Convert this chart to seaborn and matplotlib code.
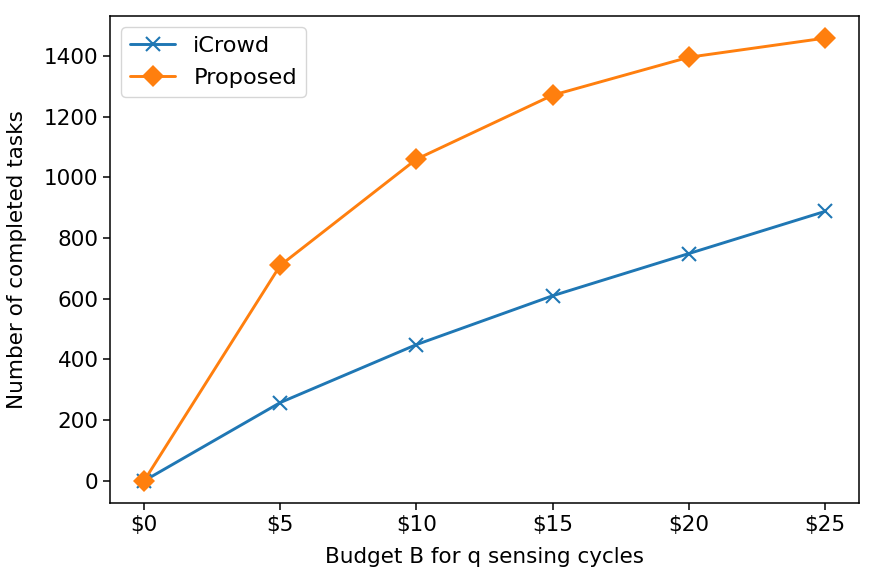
import matplotlib
matplotlib.use("Agg")
import matplotlib.pyplot as plt
import seaborn as sns
import pandas as pd

budget = [0, 5, 10, 15, 20, 25]
tick_labels = ["$0", "$5", "$10", "$15", "$20", "$25"]
icrowd = [0, 258, 449, 610, 749, 888]
proposed = [0, 710, 1060, 1271, 1396, 1459]

FS = 15.5
sns.set_theme(style="ticks", rc={
    "font.size": FS, "axes.labelsize": FS, "xtick.labelsize": FS,
    "ytick.labelsize": FS, "legend.fontsize": 16.2,
    "axes.linewidth": 1.1, "xtick.major.width": 1.1, "ytick.major.width": 1.1,
    "xtick.major.size": 4.8, "ytick.major.size": 4.8,
    "text.color": "black", "axes.labelcolor": "black",
    "xtick.color": "black", "ytick.color": "black", "axes.edgecolor": "black",
})
plt.rcParams['font.family'] = ['DejaVu Sans']

df = pd.DataFrame({
    "budget": budget * 2,
    "tasks": icrowd + proposed,
    "method": ["iCrowd"] * len(budget) + ["Proposed"] * len(budget),
})

fig = plt.figure(figsize=(8.76, 5.74), dpi=100)
ax = fig.add_axes([110/876, 1 - 503/574, (859-110)/876, (503-16)/574])

sns.lineplot(data=df[df.method == "iCrowd"], x="budget", y="tasks", ax=ax,
             color="#1f77b4", marker="x", markersize=10, markeredgewidth=1.5,
             markeredgecolor="#1f77b4", linewidth=2.1, label="iCrowd")
sns.lineplot(data=df[df.method == "Proposed"], x="budget", y="tasks", ax=ax,
             color="#ff7f0e", marker="D", markersize=11.5, markeredgewidth=0,
             markeredgecolor="#ff7f0e", linewidth=2.1, label="Proposed")

ax.set_xticks(budget)
ax.set_xticklabels(tick_labels)
ax.set_yticks([0, 200, 400, 600, 800, 1000, 1200, 1400])
ax.set_xlabel("Budget B for q sensing cycles", labelpad=9)
ax.set_ylabel("Number of completed tasks", labelpad=12)
ax.legend(loc="upper left", frameon=True, handlelength=2.0)
for s in ax.spines.values():
    s.set_visible(True)
    s.set_color("black")

fig.savefig("out.png", dpi=100)
